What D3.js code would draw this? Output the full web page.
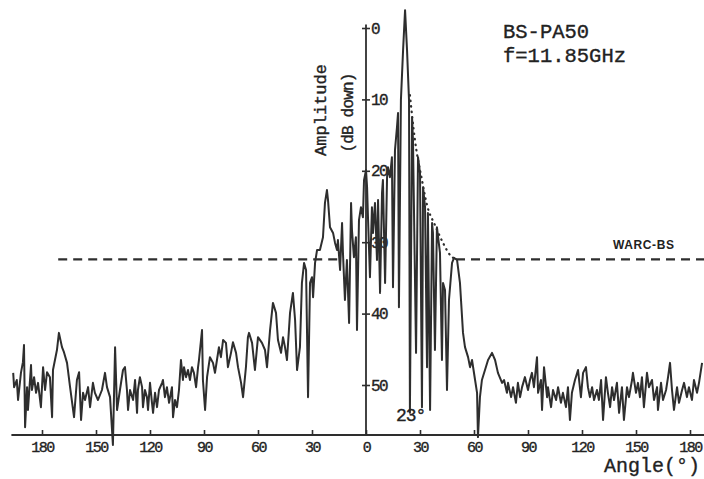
<!DOCTYPE html>
<html>
  <head>
    <meta charset="utf-8">
    <script type="text/javascript" src="https://cdn.jsdelivr.net/npm/d3@7"></script>
    <style>
      body { margin: 0; background: #fff; }
      .mono { font-family: "Liberation Mono", "Courier New", monospace; fill: #222; stroke: #222; stroke-width: 0.35px; }
    </style>
  </head>
  <body>
    <script type="text/javascript">
      var farLeft = [
        [-196, 48.3], [-195.5, 50.3], [-194, 49.3], [-193.3, 52.1], [-191.7, 48.3], [-190.6, 46.8],
        [-190, 44.4], [-189.4, 55.9], [-188.3, 50.3], [-187.8, 53.5], [-186.1, 47.2], [-185.6, 50.7],
        [-184.4, 48.9], [-183.3, 51.1], [-182.2, 49.7], [-180.6, 53.1], [-179.4, 47.5], [-178.3, 50.7],
        [-177.2, 48.2], [-175.6, 48.9], [-174.4, 54.5], [-173.9, 47.9], [-171.7, 45.1], [-170.6, 42.7],
        [-168.9, 44.7], [-167.8, 45.4], [-166.1, 46.9], [-164.4, 50.3], [-162.2, 54.5], [-160.6, 49.3],
        [-159.4, 48.2], [-158.3, 54.9], [-157.2, 51.1], [-156.1, 52.1], [-154.4, 50.3], [-153.3, 53.1],
        [-151.7, 49.7], [-150.6, 51.1], [-148.9, 52.1], [-146.7, 50.7], [-145, 48.3], [-143.9, 50.3],
        [-142.2, 51.7], [-140.6, 58.4], [-139.4, 44.7], [-138.3, 53.5], [-136.7, 50.7], [-135, 47.9],
        [-133.9, 47.5], [-132.8, 50.7], [-132.2, 53.5], [-131.1, 50.7], [-129.4, 52.1], [-128.3, 49.3],
        [-127.2, 53.9], [-126.7, 50.7], [-125.6, 48.9], [-124.4, 50.3], [-123.9, 53.1], [-122.8, 50.7],
        [-121.7, 51.7], [-121.1, 53.5], [-120, 49.7], [-118.9, 52.5], [-118.3, 53.9], [-117.2, 51.1],
        [-116.1, 53.1], [-115, 50.7], [-113.3, 49.7], [-112.8, 49.3], [-111.7, 51.7], [-110.6, 50.3],
        [-109.4, 52.5], [-107.8, 50.3], [-107.2, 54.5], [-106.1, 52.1], [-105, 53.1], [-103.9, 50.7],
        [-102.8, 46.5], [-101.7, 49.3], [-101.1, 47.5], [-100, 48.9], [-98.9, 47.9], [-97.8, 49.3],
        [-96.7, 47.5], [-95.6, 48.3], [-94.4, 50.3], [-93.3, 47.5], [-92.8, 46.5], [-91.1, 42.3],
        [-90.6, 49.3], [-89.4, 53.5], [-88.3, 48.9], [-86.7, 46.1], [-85, 46.9], [-83.9, 48.3],
        [-82.8, 46.5], [-81.7, 44.7], [-80.6, 46.1], [-79.4, 43.7], [-77.8, 44.1], [-76.7, 47.5],
        [-75, 45.5], [-73.9, 44.0], [-72.2, 45.5], [-71.1, 47.5], [-69.4, 49.7], [-68.3, 51.7],
        [-66.7, 47.5], [-65.6, 43.3]
      ];
      var nearLeft = [
        [-65, 42.7], [-63.3, 44.1], [-61.7, 47.9], [-60, 43.3], [-57.8, 44.1], [-56.1, 45.1],
        [-55, 47.5], [-53.3, 42.3], [-51.7, 38.5], [-50, 39.9], [-48.9, 43.7], [-47.2, 45.5],
        [-46.1, 43.3], [-45, 44.7], [-43.9, 46.5], [-42.2, 39.9], [-40.6, 37.1], [-39.4, 40.9],
        [-38.3, 47.9], [-36.7, 44.7], [-35.6, 35.7], [-34.4, 32.9], [-33.3, 33.9], [-32.2, 51.7],
        [-31.1, 35.7], [-30, 34.9], [-29.4, 37.7], [-28.3, 32.9], [-27.2, 31.1], [-25.6, 31.1],
        [-23.9, 29.3], [-22.8, 24.5], [-21.7, 22.7], [-21.1, 24.1], [-20, 27.9], [-18.3, 28.7],
        [-17.2, 30.1], [-16.1, 31.1], [-15.6, 29.7], [-14.4, 33.9], [-13.3, 27.3], [-12.8, 31.5],
        [-11.7, 38.1], [-10.6, 32.5], [-9.4, 41.3], [-8.3, 24.5], [-7.8, 28.3], [-6.7, 32.1],
        [-5.6, 29.3], [-5, 42.3], [-3.9, 26.9], [-2.8, 25.1], [-1.7, 26.5], [-1.1, 21.3], [0, 19.9]
      ];
      var mainLobe = [
        [0.6, 22.3], [1.1, 26.5], [2.2, 34.9], [3.3, 25.1], [3.9, 28.7], [5, 24.5], [6.1, 32.5],
        [6.7, 24.1], [7.8, 37.1], [8.9, 23.1], [9.4, 21.3], [10.6, 35.7], [11.7, 20.9], [12.2, 19.5],
        [13.3, 20.9], [14.4, 18.1], [15, 36.3], [16.1, 17.1], [17.2, 13.9], [17.8, 11.9], [18.3, 39.1],
        [19.4, 10.1], [20.6, 3.1], [21.7, -2.5], [22.8, 3.1], [23.9, 10.1], [24.4, 53.9], [25.6, 12.5],
        [26.1, 15.7], [27.8, 45.5], [28.9, 18.1], [30, 20.3], [31.1, 53.1], [31.7, 22.3], [32.8, 25.1],
        [33.9, 47.5], [34.4, 25.9], [35.6, 53.5], [36.7, 27.3], [37.2, 28.7], [38.3, 45.1], [39.4, 27.9],
        [41.1, 31.5], [42.2, 46.5], [42.8, 35.7], [43.9, 36.7], [45, 50.7], [46.1, 38.1], [47.8, 32.9],
        [48.9, 32.2], [50.6, 32.5], [52.2, 35.7], [53.9, 42.7]
      ];
      var farRight = [
        [55, 44.7], [56.7, 46.1], [57.8, 47.5], [58.9, 46.5], [60.6, 49.3], [61.7, 51.1], [62.2, 57.3],
        [63.3, 51.7], [64.4, 49.3], [66.1, 47.9], [67.8, 46.5], [70, 45.5], [71.7, 46.5], [73.3, 48.3],
        [75.6, 49.7], [76.7, 49.3], [78.3, 51.1], [78.9, 49.7], [80.6, 51.7], [81.7, 50.3], [83.3, 52.5],
        [84.4, 49.7], [85.6, 51.7], [86.7, 50.3], [88.3, 48.9], [90, 50.7], [91.1, 49.3], [92.2, 48.3],
        [93.3, 50.3], [95, 46.1], [95.6, 51.1], [97.2, 49.3], [97.8, 53.5], [98.9, 47.5], [100.6, 51.7],
        [101.1, 50.3], [102.8, 53.1], [103.9, 50.7], [105.6, 52.1], [106.7, 50.3], [108.3, 52.5],
        [109.4, 51.1], [111.1, 53.1], [112.2, 50.3], [113.3, 54.9], [114.4, 51.1], [116.1, 49.3],
        [117.8, 47.9], [119.4, 51.7], [120.6, 48.3], [122.2, 47.5], [123.3, 50.3], [124.4, 51.7],
        [125.6, 50.3], [126.7, 52.1], [128.3, 50.7], [129.4, 52.1], [130.6, 49.3], [131.7, 54.9],
        [133.3, 48.9], [134.4, 51.1], [135.6, 53.1], [136.7, 50.3], [137.8, 52.1], [139.4, 49.7],
        [140.6, 53.9], [142.2, 50.3], [143.3, 54.9], [145, 50.3], [146.1, 51.7], [147.8, 49.3],
        [148.3, 48.3], [150, 51.1], [151.1, 49.7], [152.2, 51.7], [153.3, 48.9], [154.4, 53.1],
        [156.1, 48.3], [157.2, 50.3], [158.9, 49.3], [160, 52.1], [161.7, 50.3], [162.2, 53.5],
        [163.9, 49.7], [165, 52.1], [166.7, 50.7], [167.8, 48.9], [168.9, 46.9], [170, 50.7],
        [171.1, 53.5], [172.8, 50.3], [173.9, 52.5], [175.6, 50.7], [176.7, 49.7], [178.3, 51.7],
        [179.4, 50.3], [181.1, 52.1], [182.2, 49.3], [183.9, 51.1], [185, 49.7], [186.7, 46.9]
      ];

      // WARC-BS reference pattern: flat level plus dotted roll-off next to the main beam
      var warcLevel = 32.4;
      var warcLeft = [-171, -16];
      var warcRight = [50, 188];
      var envelope = [
        [24.4, 9.4], [27.2, 15.7], [31.1, 21.3], [33.9, 24.8], [38.3, 27.6],
        [42.8, 30.1], [46.7, 31.8], [50, 32.4]
      ];

      // Axis ticks
      var xTicks = [-180, -150, -120, -90, -60, -30, 0, 30, 60, 90, 120, 150, 180];
      var yTicks = [0, 10, 20, 30, 40, 50];
      var xSpan = [-197, 188];
      var axisFloor = 57;

      var width = 704;
      var height = 479;
      var svg = d3.select("body")
                  .append("svg")
                  .attr("width", width)
                  .attr("height", height);

      var x = d3.scaleLinear()
                .domain([-180, 180])
                .range([42, 690]);
      var y = d3.scaleLinear()
                .domain([0, 50])
                .range([28, 385]);

      var ink = "#2e2e2e";

      // x-axis line and ticks (labels are angles either side of 0)
      svg.append("line")
         .attr("x1", x(xSpan[0])).attr("x2", x(xSpan[1]))
         .attr("y1", y(axisFloor)).attr("y2", y(axisFloor))
         .attr("stroke", ink).attr("stroke-width", 1.8);

      var xAxis = d3.axisBottom(x)
                    .tickValues(xTicks)
                    .tickFormat(function(d) { return Math.abs(d); })
                    .tickSizeInner(-5)
                    .tickSizeOuter(0)
                    .tickPadding(6);
      var gx = svg.append("g")
                  .attr("transform", "translate(0," + y(axisFloor) + ")")
                  .call(xAxis);
      gx.select(".domain").remove();
      gx.selectAll(".tick line").attr("stroke", ink).attr("stroke-width", 1.6);
      gx.selectAll(".tick text")
        .attr("class", "mono")
        .style("font-size", "15px")
        .style("letter-spacing", "-1.5px");

      // y-axis sits on the 0 degree line
      svg.append("line")
         .attr("x1", x(0)).attr("x2", x(0))
         .attr("y1", y(-0.5)).attr("y2", y(axisFloor))
         .attr("stroke", ink).attr("stroke-width", 1.8);

      var yAxis = d3.axisRight(y)
                    .tickValues(yTicks)
                    .tickSizeInner(4)
                    .tickSizeOuter(0)
                    .tickPadding(1);
      var gy = svg.append("g")
                  .attr("transform", "translate(" + x(0) + ",0)")
                  .call(yAxis);
      gy.select(".domain").remove();
      gy.selectAll(".tick line").attr("x1", -4).attr("stroke", ink).attr("stroke-width", 1.6);
      gy.selectAll(".tick text")
        .attr("class", "mono")
        .style("font-size", "16px")
        .style("letter-spacing", "-1.5px");

      // WARC-BS dashed level and dotted envelope
      [warcLeft, warcRight].forEach(function(span) {
        svg.append("line")
           .attr("x1", x(span[0])).attr("x2", x(span[1]))
           .attr("y1", y(warcLevel)).attr("y2", y(warcLevel))
           .attr("stroke", ink)
           .attr("stroke-width", 2.4)
           .attr("stroke-dasharray", "9,6");
      });

      var line = d3.line()
                   .x(function(d) { return x(d[0]); })
                   .y(function(d) { return y(d[1]); });

      svg.append("path")
         .datum(envelope)
         .attr("d", line.curve(d3.curveMonotoneX))
         .attr("fill", "none")
         .attr("stroke", ink)
         .attr("stroke-width", 2.2)
         .attr("stroke-linecap", "round")
         .attr("stroke-dasharray", "0.5,5");

      // Measured pattern
      var pattern = farLeft.concat(nearLeft, mainLobe, farRight);
      svg.append("path")
         .datum(pattern)
         .attr("d", line.curve(d3.curveLinear))
         .attr("fill", "none")
         .attr("stroke", ink)
         .attr("stroke-width", 2)
         .attr("stroke-linejoin", "round");

      // Labels
      svg.append("text")
         .attr("class", "mono")
         .attr("transform", "translate(320,110) rotate(-90)")
         .attr("text-anchor", "middle")
         .attr("dy", "0.35em")
         .style("font-size", "17px")
         .text("Amplitude");
      svg.append("text")
         .attr("class", "mono")
         .attr("transform", "translate(347,113) rotate(-90)")
         .attr("text-anchor", "middle")
         .attr("dy", "0.35em")
         .style("font-size", "16px")
         .style("letter-spacing", "-0.8px")
         .text("(dB down)");

      svg.append("text")
         .attr("class", "mono")
         .attr("x", 503).attr("y", 38)
         .style("font-size", "20.5px")
         .text("BS-PA50");
      svg.append("text")
         .attr("class", "mono")
         .attr("x", 503).attr("y", 62)
         .style("font-size", "20.5px")
         .text("f=11.85GHz");

      svg.append("text")
         .attr("x", 613).attr("y", 249)
         .style("font-family", "Liberation Sans, Arial, sans-serif")
         .style("font-weight", "bold")
         .style("font-size", "12px")
         .style("letter-spacing", "0.6px")
         .attr("fill", "#222")
         .text("WARC-BS");

      svg.append("text")
         .attr("class", "mono")
         .attr("x", 396).attr("y", 421)
         .style("font-size", "18px")
         .style("letter-spacing", "-1px")
         .text("23°");

      svg.append("text")
         .attr("class", "mono")
         .attr("x", 700).attr("y", 472)
         .attr("text-anchor", "end")
         .style("font-size", "20px")
         .text("Angle(°)");
    </script>
  </body>
</html>
